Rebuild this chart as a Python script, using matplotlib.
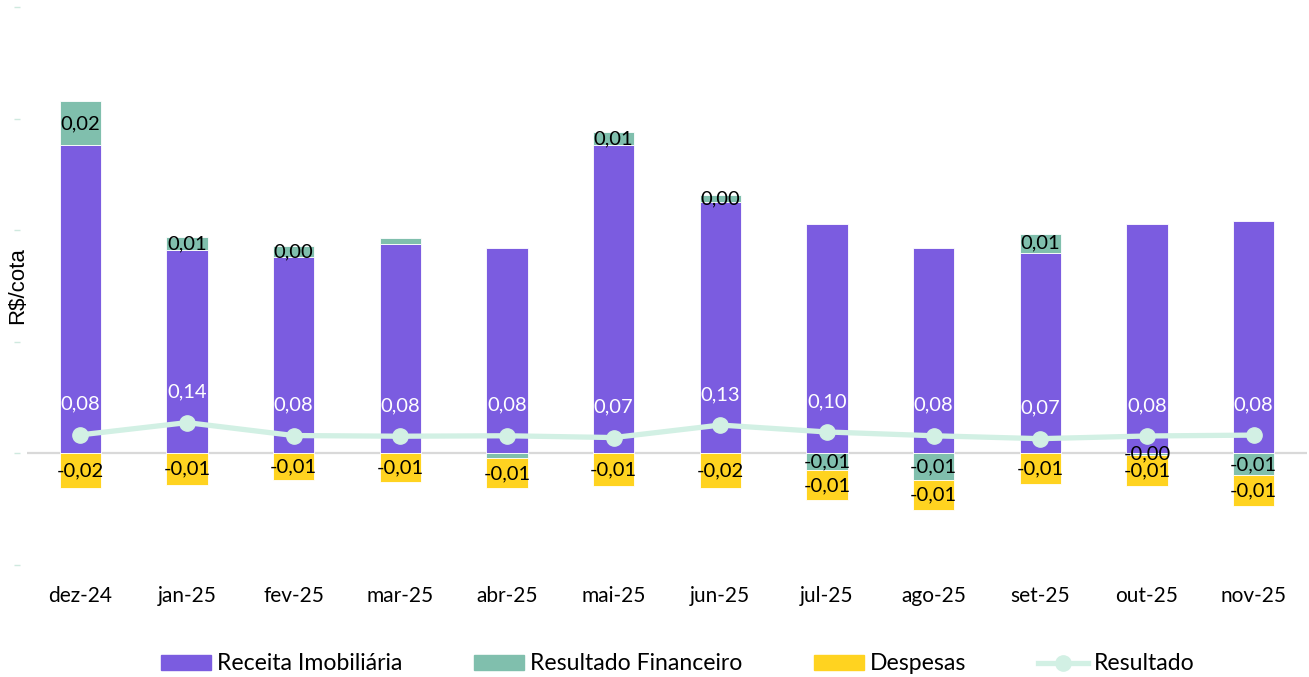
import matplotlib
matplotlib.use("Agg")
import matplotlib.pyplot as plt
from matplotlib.lines import Line2D
from matplotlib.patches import Patch

# dados (R$/cota)
meses = ['dez-24', 'jan-25', 'fev-25', 'mar-25', 'abr-25', 'mai-25',
         'jun-25', 'jul-25', 'ago-25', 'set-25', 'out-25', 'nov-25']
receita = [0.138, 0.091, 0.088, 0.094, 0.092, 0.138,
           0.1126, 0.103, 0.092, 0.090, 0.103, 0.104]
financeiro = [0.0197, 0.0058, 0.0048, 0.0027, -0.0022, 0.0058,
              0.0030, -0.0076, -0.0117, 0.0085, -0.0008, -0.0099]
despesas = [-0.0157, -0.0143, -0.0121, -0.0130, -0.0135, -0.0148,
            -0.0155, -0.0135, -0.0135, -0.0139, -0.0137, -0.0135]
resultado = [0.083, 0.138, 0.080, 0.077, 0.079, 0.071,
             0.127, 0.096, 0.079, 0.066, 0.078, 0.082]
mostrar_fin = [True, True, True, False, False, True,
               True, True, True, True, True, True]

COR_REC = '#7b5ce0'
COR_FIN = '#80bfad'
COR_DESP = '#ffd320'
COR_RES = '#d2f0e4'

def fmt(v):
    return f"{v:.2f}".replace('.', ',')

fig = plt.figure(figsize=(13.09, 6.77), dpi=100)
ax = fig.add_axes([27 / 1309, 1 - 565 / 677, 1280 / 1309, 558 / 677])

x = list(range(len(meses)))
w = 0.39

fin_base = [r if f >= 0 else 0 for r, f in zip(receita, financeiro)]
desp_base = [min(f, 0) for f in financeiro]

ax.axhline(0, color='#d9d9d9', lw=1.6, zorder=1)
ax.bar(x, receita, w, color=COR_REC, edgecolor='white', linewidth=0.6, zorder=2)
ax.bar(x, financeiro, w, bottom=fin_base, color=COR_FIN, edgecolor='white', linewidth=0.6, zorder=2)
ax.bar(x, despesas, w, bottom=desp_base, color=COR_DESP, edgecolor='white', linewidth=0.6, zorder=2)

for i in x:
    if mostrar_fin[i]:
        ax.text(i, fin_base[i] + financeiro[i] / 2, fmt(financeiro[i]),
                ha='center', va='center', fontsize=14.5, family='Lato', zorder=4)
    ax.text(i, desp_base[i] + despesas[i] / 2, fmt(despesas[i]),
            ha='center', va='center', fontsize=14.5, family='Lato', zorder=4)

ax.set_xlim(-0.5, len(meses) - 0.5)
ax.set_ylim(-0.05, 0.20)
ax.set_yticks([-0.05, 0, 0.05, 0.10, 0.15, 0.20])
ax.set_yticklabels([])
ax.set_xticks(x)
ax.set_xticklabels(meses, family='Lato', fontsize=15)
ax.tick_params(axis='x', length=0, pad=15)
ax.tick_params(axis='y', length=4, color='#cfe9df', width=1)
for s in ax.spines.values():
    s.set_visible(False)
ax.spines['left'].set_position(('outward', 5))

# linha de resultado em eixo secundario
ax2 = ax.twinx()
ax2.set_ylim(-0.5, 2.0)
ax2.plot(x, resultado, color=COR_RES, lw=3.8, marker='o', markersize=11, zorder=5)
for i in x:
    ax2.annotate(fmt(resultado[i]), (i, resultado[i]), xytext=(0, 22),
                 textcoords='offset points', ha='center', va='center',
                 color='white', fontsize=14.5, family='Lato')
ax2.set_yticks([])
for s in ax2.spines.values():
    s.set_visible(False)

fig.text(18 / 1309, 1 - 286 / 677, 'R$/cota', rotation=90, ha='center', va='center',
         family='Liberation Sans', fontsize=16)

handles = [Patch(color=COR_REC), Patch(color=COR_FIN), Patch(color=COR_DESP),
           Line2D([], [], color=COR_RES, lw=3.8, marker='o', markersize=11)]
labels = ['Receita Imobiliária', 'Resultado Financeiro', 'Despesas', 'Resultado']
fig.legend(handles, labels, loc='center', bbox_to_anchor=(678 / 1309, 1 - 664 / 677),
           ncol=4, frameon=False, prop={'family': 'Lato', 'size': 16.6},
           handlelength=2.17, handleheight=0.6, handletextpad=0.26, columnspacing=3.1)

fig.savefig('out.png', dpi=100)
